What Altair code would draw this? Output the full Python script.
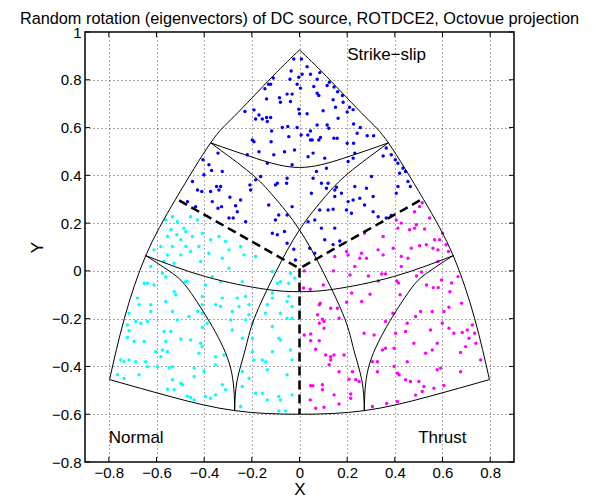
import altair as alt
import pandas as pd

TITLE = "Random rotation (eigenvectors) of DC source, ROTDCE2, Octovue projection"
FONT = "Liberation Sans"
x_ticks = [-0.8, -0.6, -0.4, -0.2, 0, 0.2, 0.4, 0.6, 0.8]
y_ticks = [-0.8, -0.6, -0.4, -0.2, 0, 0.2, 0.4, 0.6, 0.8, 1]
x_domain = [-0.9, 0.9]
y_domain = [-0.8, 1.0]

blue_pts = [
    (-0.024,0.887),(0.008,0.887),(-0.035,0.837),(0.032,0.855),(0.011,0.823),(0.046,0.823),(-0.11,0.807),(-0.040,0.802),
    (-0.003,0.811),(0.074,0.802),(0.085,0.83),(-0.13,0.781),(-0.121,0.781),(-0.010,0.781),(0.004,0.765),(0.060,0.772),
    (0.116,0.776),(0.125,0.79),(0.145,0.77),(-0.145,0.762),(-0.084,0.725),(-0.052,0.740),(-0.031,0.740),(0.074,0.744),
    (0.081,0.734),(0.16,0.75),(0.18,0.734),(-0.138,0.720),(-0.080,0.706),(-0.038,0.709),(0.141,0.716),(0.151,0.685),
    (0.183,0.706),(0.21,0.685),(0.225,0.675),(-0.229,0.667),(-0.191,0.674),(-0.170,0.653),(-0.138,0.642),(-0.121,0.642),
    (-0.184,0.636),(-0.156,0.636),(-0.003,0.677),(0.0,0.658),(0.032,0.658),(0.099,0.670),(0.162,0.639),(0.2,0.665),
    (-0.135,0.625),(-0.072,0.600),(-0.049,0.604),(-0.010,0.600),(0.074,0.611),(0.116,0.611),(0.123,0.597),(0.227,0.615),
    (0.255,0.600),(-0.117,0.586),(0.046,0.586),(0.007,0.569),(-0.045,0.562),(0.035,0.569),(0.088,0.558),(0.144,0.555),
    (0.158,0.555),(0.242,0.576),(0.284,0.566),(0.311,0.566),(-0.198,0.548),(-0.191,0.541),(-0.119,0.541),(0.046,0.548),
    (0.053,0.548),(0.081,0.548),(0.200,0.534),(0.227,0.534),
    (-0.342,0.493),(-0.405,0.465),(-0.380,0.444),(-0.324,0.416),(-0.369,0.420),(-0.401,0.402),(-0.449,0.374),(-0.348,0.353),
    (-0.331,0.353),(-0.338,0.339),(-0.428,0.339),(-0.410,0.332),(-0.373,0.332),(-0.292,0.308),(-0.470,0.290),(-0.366,0.290),
    (-0.436,0.269),(-0.327,0.269),(-0.268,0.273),(-0.261,0.248),(-0.342,0.262),(-0.208,0.360),(-0.205,0.339),(-0.163,0.395),
    (-0.101,0.360),(-0.093,0.367),(-0.054,0.367),(-0.052,0.388),(-0.184,0.381),(-0.296,0.221),(-0.278,0.221),(-0.226,0.206),
    (-0.247,0.297),(-0.129,0.276),(-0.101,0.213),(-0.087,0.234),(-0.052,0.234),(-0.031,0.269),(-0.063,0.165),(-0.093,0.151),
    (-0.052,0.116),(-0.114,0.158),(-0.024,0.091),(-0.219,0.486),(-0.170,0.499),(-0.135,0.451),(-0.063,0.499),(-0.021,0.506),
    (-0.108,0.486),(-0.031,0.444),(-0.017,0.046),
    (0.364,0.514),(0.385,0.486),(0.351,0.481),(0.402,0.465),(0.413,0.451),(0.434,0.430),(0.445,0.416),(0.420,0.409),
    (0.455,0.374),(0.465,0.353),(0.413,0.353),(0.406,0.325),(0.057,0.493),(0.036,0.478),(0.106,0.472),(0.225,0.472),
    (0.232,0.493),(0.204,0.458),(0.113,0.430),(0.071,0.416),(0.057,0.388),(0.092,0.367),(0.120,0.367),(0.113,0.346),
    (0.148,0.339),(0.155,0.350),(0.176,0.325),(0.050,0.325),(0.148,0.311),(0.204,0.290),(0.225,0.297),(0.253,0.304),
    (0.281,0.346),(0.302,0.395),(0.309,0.311),(0.232,0.353),(0.273,0.276),(0.309,0.248),(0.085,0.255),(0.120,0.255),
    (0.141,0.258),(0.197,0.255),(0.218,0.241),(0.330,0.227),(0.364,0.221),(0.385,0.232),(0.064,0.213),(0.036,0.206),
    (0.092,0.179),(0.148,0.179),(0.043,0.095),(0.064,0.074),(0.141,0.11),(0.169,0.125),(0.106,0.130),
]

cyan_pts = [
    (-0.533,0.227),(-0.561,0.213),(-0.512,0.206),(-0.457,0.227),(-0.428,0.213),(-0.485,0.179),(-0.540,0.172),(-0.477,0.165),
    (-0.515,0.151),(-0.554,0.144),(-0.498,0.130),(-0.449,0.144),(-0.408,0.158),(-0.373,0.130),(-0.338,0.144),(-0.422,0.102),
    (-0.477,0.102),(-0.533,0.102),(-0.582,0.102),(-0.610,0.088),(-0.554,0.067),(-0.498,0.067),(-0.457,0.081),(-0.380,0.074),
    (-0.324,0.053),(-0.296,0.088),(-0.247,0.102),(-0.233,0.067),(-0.310,0.123),(-0.526,0.032),(-0.568,0.039),(-0.415,0.039),
    (-0.624,0.018),(-0.296,0.011),(-0.184,0.060),(-0.02,-0.03),
    (-0.652,-0.052),(-0.638,-0.052),(-0.610,-0.059),(-0.575,-0.010),(-0.561,-0.026),(-0.680,-0.114),(-0.673,-0.142),(-0.624,-0.142),
    (-0.624,-0.170),(-0.715,-0.177),(-0.687,-0.212),(-0.666,-0.219),(-0.638,-0.212),(-0.722,-0.226),(-0.526,-0.087),(-0.519,-0.100),
    (-0.478,-0.045),(-0.471,-0.045),(-0.561,-0.128),(-0.533,-0.170),(-0.512,-0.205),(-0.464,-0.191),(-0.428,-0.170),(-0.408,-0.177),
    (-0.408,-0.142),(-0.408,-0.107),(-0.394,-0.059),(-0.387,-0.219),(-0.408,-0.236),(-0.324,-0.114),(-0.331,-0.149),(-0.352,-0.142),
    (-0.289,-0.205),(-0.282,-0.170),(-0.366,-0.024),(-0.331,-0.045),(-0.240,-0.045),(-0.226,-0.107),(-0.261,-0.114),(-0.212,-0.142),
    (-0.254,-0.149),(-0.212,-0.184),(-0.226,-0.205),(-0.198,-0.219),(-0.114,-0.003),(-0.093,-0.052),(-0.080,-0.045),(-0.038,-0.010),
    (-0.045,-0.052),(-0.114,-0.093),(-0.114,-0.114),(-0.135,-0.142),(-0.045,-0.107),(-0.052,-0.128),(-0.031,-0.149),(-0.142,-0.177),
    (-0.080,-0.177),(-0.052,-0.198),(-0.031,-0.198),(-0.114,-0.233),
    (-0.715,-0.251),(-0.722,-0.279),(-0.694,-0.296),(-0.652,-0.296),(-0.750,-0.373),(-0.715,-0.373),(-0.736,-0.380),(-0.687,-0.380),
    (-0.645,-0.380),(-0.638,-0.401),(-0.673,-0.435),(-0.764,-0.435),(-0.736,-0.450),(-0.603,-0.338),(-0.575,-0.331),(-0.554,-0.338),
    (-0.582,-0.359),(-0.568,-0.254),(-0.540,-0.254),(-0.561,-0.296),(-0.498,-0.285),(-0.457,-0.289),(-0.415,-0.303),(-0.408,-0.317),
    (-0.422,-0.345),(-0.533,-0.401),(-0.547,-0.405),(-0.596,-0.401),(-0.533,-0.456),(-0.498,-0.470),(-0.491,-0.477),(-0.526,-0.498),
    (-0.554,-0.495),(-0.442,-0.407),(-0.442,-0.442),(-0.401,-0.421),(-0.352,-0.393),(-0.352,-0.359),(-0.317,-0.352),(-0.470,-0.525),
    (-0.457,-0.530),(-0.394,-0.526),(-0.373,-0.533),(-0.352,-0.519),(-0.442,-0.540),(-0.324,-0.477),(-0.310,-0.498),(-0.282,-0.247),
    (-0.240,-0.282),(-0.198,-0.282),(-0.198,-0.338),(-0.191,-0.373),(-0.156,-0.373),(-0.142,-0.380),(-0.087,-0.282),(-0.080,-0.289),
    (-0.114,-0.338),(-0.038,-0.331),(-0.031,-0.373),(-0.135,-0.414),(-0.052,-0.435),(-0.240,-0.421),(-0.212,-0.449),(-0.240,-0.484),
    (-0.184,-0.512),(-0.156,-0.512),(-0.135,-0.540),(-0.087,-0.526),(-0.080,-0.540),(-0.031,-0.519),(-0.087,-0.586),(-0.059,-0.586),
    (-0.247,-0.568),
]

magenta_pts = [
    (0.515,0.285),(0.504,0.269),(0.483,0.248),(0.546,0.221),(0.490,0.193),(0.483,0.179),(0.427,0.200),(0.406,0.213),
    (0.462,0.172),(0.525,0.175),(0.413,0.179),(0.351,0.144),(0.273,0.158),(0.393,0.095),(0.469,0.095),(0.504,0.105),
    (0.532,0.109),(0.588,0.130),(0.567,0.130),(0.600,0.158),(0.560,0.095),(0.581,0.088),(0.615,0.109),(0.625,0.081),
    (0.351,0.067),(0.330,0.088),(0.260,0.074),(0.281,0.053),(0.253,0.053),(0.204,0.067),(0.148,0.060),(0.197,0.081),
    (0.427,0.060),(0.455,0.053),(0.232,0.018),(0.427,0.018),(0.581,0.039),(0.02,0.0),
    (0.017,-0.072),(0.045,-0.077),(0.100,-0.059),(0.142,0.0),(0.212,-0.017),(0.289,-0.021),(0.345,-0.013),(0.361,-0.013),
    (0.331,-0.042),(0.408,-0.042),(0.415,-0.051),(0.491,-0.021),(0.512,-0.005),(0.533,-0.059),(0.561,-0.070),(0.582,-0.070),
    (0.596,-0.038),(0.638,-0.051),(0.631,-0.087),(0.296,-0.098),(0.219,-0.093),(0.261,-0.128),(0.422,-0.100),(0.087,-0.135),
    (0.198,-0.131),(0.680,-0.135),(0.665,-0.024),
    (0.083,-0.142),(0.131,-0.156),(0.159,-0.156),(0.076,-0.184),(0.096,-0.202),(0.103,-0.212),(0.083,-0.219),(0.020,-0.268),
    (0.047,-0.264),(0.047,-0.292),(0.083,-0.292),(0.103,-0.240),(0.166,-0.198),(0.068,-0.328),(0.110,-0.352),(0.131,-0.359),
    (0.145,-0.352),(0.187,-0.352),(0.131,-0.373),(0.124,-0.393),(0.166,-0.422),(0.222,-0.422),(0.208,-0.454),(0.236,-0.456),
    (0.250,-0.463),(0.047,-0.481),(0.056,-0.481),(0.096,-0.477),(0.096,-0.498),(0.045,-0.540),(0.145,-0.519),(0.215,-0.515),
    (0.215,-0.533),(0.103,-0.571),(0.068,-0.575),(0.166,-0.557),(0.313,-0.268),(0.271,-0.261),(0.348,-0.331),(0.361,-0.324),
    (0.397,-0.324),(0.306,-0.380),(0.327,-0.380),(0.327,-0.422),(0.411,-0.428),(0.418,-0.435),(0.397,-0.400),(0.452,-0.380),
    (0.361,-0.212),(0.392,-0.177),(0.403,-0.261),(0.445,-0.254),(0.452,-0.219),(0.480,-0.303),(0.508,-0.170),(0.557,-0.170),
    (0.606,-0.170),(0.627,-0.152),(0.599,-0.219),(0.627,-0.240),(0.683,-0.258),(0.704,-0.247),(0.725,-0.226),(0.648,-0.261),
    (0.550,-0.247),(0.578,-0.303),(0.711,-0.282),(0.697,-0.317),(0.529,-0.345),(0.557,-0.331),(0.676,-0.342),(0.740,-0.303),
    (0.735,-0.261),(0.578,-0.414),(0.592,-0.407),(0.676,-0.422),(0.760,-0.373),(0.445,-0.456),(0.466,-0.463),(0.501,-0.463),
    (0.522,-0.484),(0.564,-0.491),(0.606,-0.480),(0.515,-0.505),(0.487,-0.520),(0.411,-0.547),(0.366,-0.555),(0.306,-0.568),
    (0.487,-0.191),
]

# solid curves
curves = {
    "edge_left": [(-0.797,-0.455),(-0.735,-0.200),(-0.645,0.064),(-0.520,0.300),(-0.373,0.536),(-0.275,0.646),(-0.114,0.813),(0.0,0.925)],
    "edge_right": [(0.797,-0.455),(0.735,-0.200),(0.645,0.064),(0.520,0.300),(0.373,0.536),(0.275,0.646),(0.114,0.813),(0.0,0.925)],
    "edge_bottom": [(-0.797,-0.455),(-0.535,-0.528),(-0.272,-0.585),(0.0,-0.600),(0.272,-0.585),(0.535,-0.528),(0.797,-0.455)],
    "arc_top": [(-0.373,0.536),(-0.180,0.470),(0.0,0.433),(0.180,0.470),(0.373,0.536)],
    "arc_long1": [(-0.373,0.536),(-0.205,0.409),(-0.108,0.311),(0.0,0.172),(0.102,-0.010),(0.190,-0.200),(0.228,-0.331),(0.262,-0.460),(0.272,-0.585)],
    "arc_long2": [(0.373,0.536),(0.205,0.409),(0.108,0.311),(0.0,0.172),(-0.102,-0.010),(-0.190,-0.200),(-0.228,-0.331),(-0.262,-0.460),(-0.272,-0.585)],
    "arc_mid": [(-0.645,0.064),(-0.394,-0.024),(-0.142,-0.077),(0.0,-0.087),(0.142,-0.077),(0.394,-0.024),(0.645,0.064)],
    "arc_left": [(-0.645,0.064),(-0.533,-0.010),(-0.464,-0.080),(-0.366,-0.233),(-0.289,-0.407),(-0.272,-0.585)],
    "arc_right": [(0.645,0.064),(0.533,-0.010),(0.464,-0.080),(0.366,-0.233),(0.289,-0.407),(0.272,-0.585)],
}
dashed = {
    "d_left": [(-0.505,0.295),(0.0,0.010)],
    "d_right": [(0.505,0.295),(0.0,0.010)],
    "d_down": [(0.0,0.010),(0.0,-0.600)],
}
label_text = ["Strike\u2212slip", "Normal", "Thrust"]
label_x = [0.200, -0.800, 0.498]
label_y = [0.905, -0.700, -0.700]
TICK_LEN = 0.021

# ---- tables
pts = pd.DataFrame(
    [(x, y, "blue") for x, y in blue_pts]
    + [(x, y, "cyan") for x, y in cyan_pts]
    + [(x, y, "magenta") for x, y in magenta_pts],
    columns=["x", "y", "grp"],
)
curve_rows = []
for name, p in curves.items():
    for i, (x, y) in enumerate(p):
        curve_rows.append((name, i, x, y))
curve_df = pd.DataFrame(curve_rows, columns=["seg", "i", "x", "y"])
dash_rows = []
for name, p in dashed.items():
    for i, (x, y) in enumerate(p):
        dash_rows.append((name, i, x, y))
dash_df = pd.DataFrame(dash_rows, columns=["seg", "i", "x", "y"])
lab_df = pd.DataFrame({"t": label_text, "x": label_x, "y": label_y})

vt_rows = []
for v in x_ticks:
    vt_rows.append((v, y_domain[0], y_domain[0] + TICK_LEN))
    vt_rows.append((v, y_domain[1], y_domain[1] - TICK_LEN))
vtick_df = pd.DataFrame(vt_rows, columns=["x", "y", "y2"])
ht_rows = []
for v in y_ticks:
    ht_rows.append((x_domain[0], x_domain[0] + TICK_LEN, v))
    ht_rows.append((x_domain[1], x_domain[1] - TICK_LEN, v))
htick_df = pd.DataFrame(ht_rows, columns=["x", "x2", "y"])

xs = alt.Scale(domain=x_domain, nice=False, zero=False)
ys = alt.Scale(domain=y_domain, nice=False, zero=False)
x_axis = alt.Axis(values=x_ticks, format=".1~f", title="X", grid=True, labelPadding=3, titlePadding=1)
y_axis = alt.Axis(values=y_ticks, format=".1~f", title="Y", grid=True, labelPadding=4, titlePadding=5)
X = alt.X("x:Q", scale=xs, axis=x_axis)
Y = alt.Y("y:Q", scale=ys, axis=y_axis)

points = alt.Chart(pts).mark_circle(size=12, opacity=1).encode(
    x=X, y=Y,
    color=alt.Color("grp:N", scale=alt.Scale(domain=["blue", "cyan", "magenta"],
                                             range=["#0000ff", "#00ffff", "#ff00ff"]), legend=None),
)
lines = alt.Chart(curve_df).mark_line(color="black", strokeWidth=1, interpolate="natural").encode(
    x=X, y=Y, detail="seg:N", order="i:Q",
)
dash_lines = alt.Chart(dash_df).mark_line(color="black", strokeWidth=2.5, strokeDash=[9, 5]).encode(
    x=X, y=Y, detail="seg:N", order="i:Q",
)
vticks = alt.Chart(vtick_df).mark_rule(color="black", strokeWidth=1).encode(x=X, y=Y, y2="y2:Q")
hticks = alt.Chart(htick_df).mark_rule(color="black", strokeWidth=1).encode(x=X, x2="x2:Q", y=Y)
labels = alt.Chart(lab_df).mark_text(align="left", baseline="middle", fontSize=17, font=FONT, color="black").encode(
    x=X, y=Y, text="t:N",
)

chart = alt.layer(points, lines, dash_lines, vticks, hticks, labels).properties(
    width=429, height=430,
    autosize=alt.AutoSizeParams(type="none"),
    padding={"left": 77, "top": 24, "right": 74, "bottom": 37},
    title=alt.TitleParams(TITLE, fontSize=16.3, font=FONT, fontWeight="normal", color="black",
                          anchor="middle", offset=-2),
).configure_axis(
    labelFont=FONT, labelFontSize=15, labelColor="black",
    titleFont=FONT, titleFontSize=17, titleFontWeight="normal", titleColor="black",
    domain=False, ticks=False, gridColor="#555555", gridDash=[1, 3], gridWidth=1,
).configure_view(stroke="black", strokeWidth=1.5)

chart.save("out.html", embed_options={"renderer": "svg", "actions": False})
